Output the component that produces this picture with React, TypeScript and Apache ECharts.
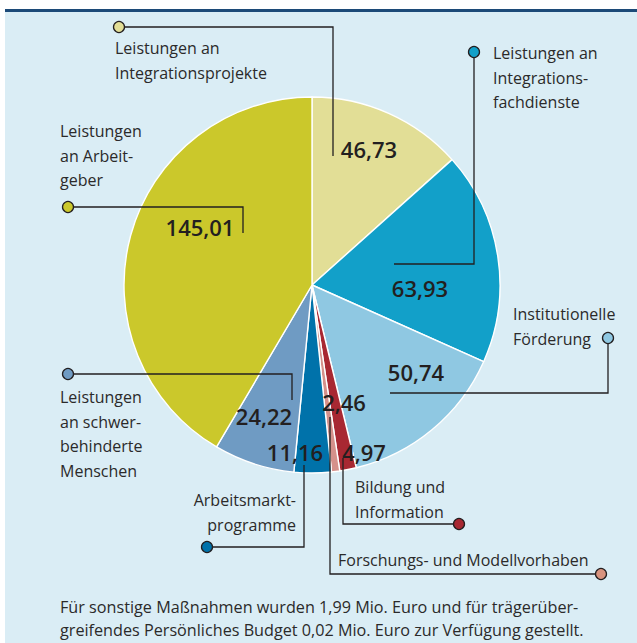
import React, { useEffect, useRef } from "react";
import * as echarts from "echarts";

// Data (Mio. Euro), clockwise from 12 o'clock
const categories = [
  "Leistungen an Integrationsprojekte",
  "Leistungen an Integrationsfachdienste",
  "Institutionelle Förderung",
  "Bildung und Information",
  "Forschungs- und Modellvorhaben",
  "Arbeitsmarktprogramme",
  "Leistungen an schwerbehinderte Menschen",
  "Leistungen an Arbeitgeber",
];
const values = [46.73, 63.93, 50.74, 4.97, 2.46, 11.16, 24.22, 145.01];
const footnote = [
  "Für sonstige Maßnahmen wurden 1,99 Mio. Euro und für trägerüber-",
  "greifendes Persönliches Budget 0,02 Mio. Euro zur Verfügung gestellt.",
];

// Styles / layout
const sliceColors = ["#e2de96", "#12a0c9", "#8fc8e2", "#a82832", "#d5918b", "#0072aa", "#6f9bc3", "#cbc82b"];
const markerColors = ["#e2de96", "#12a0c9", "#8fc8e2", "#a82832", "#d9937e", "#0072aa", "#6f9bc3", "#cbc82b"];
const valueLabelPos: [number, number][] = [
  [369, 149], [420, 288], [416, 372], [364, 452], [344, 402], [295, 452], [264, 416], [200, 227],
];
const calloutText: string[][] = [
  ["Leistungen an", "Integrationsprojekte"],
  ["Leistungen an", "Integrations-", "fachdienste"],
  ["Institutionelle", "Förderung"],
  ["Bildung und", "Information"],
  ["Forschungs- und Modellvorhaben"],
  ["Arbeitsmarkt-", "programme"],
  ["Leistungen", "an schwer-", "behinderte", "Menschen"],
  ["Leistungen", "an Arbeit-", "geber"],
];
const calloutTextPos: { x: number; y: number; align: string }[] = [
  { x: 115, y: 48, align: "left" },
  { x: 493, y: 53, align: "left" },
  { x: 513, y: 314, align: "left" },
  { x: 355, y: 487, align: "left" },
  { x: 338, y: 560, align: "left" },
  { x: 296, y: 500, align: "right" },
  { x: 60, y: 397, align: "left" },
  { x: 60, y: 131, align: "left" },
];
const leaderLines: [number, number][][] = [
  [[119, 27], [333, 27], [333, 156]],
  [[474, 52], [474, 264], [394, 264]],
  [[608, 338], [608, 393], [390, 393]],
  [[459, 524], [343, 524], [343, 458]],
  [[601, 574], [330, 574], [330, 417]],
  [[207, 547], [304, 547], [304, 465]],
  [[68, 374], [292, 374], [292, 400]],
  [[68, 207], [243, 207], [243, 233]],
];

const FONT = '"Open Sans", "Noto Sans", sans-serif';
const INK = "#231f20";
const LINE_H = 24.5;

export default function App() {
  const ref = useRef<HTMLDivElement>(null);

  useEffect(() => {
    document.body.style.margin = "0";
    if (!ref.current) return;
    const chart = echarts.init(ref.current, null, { renderer: "svg" });

    const fmt = (v: number) => v.toFixed(2).replace(".", ",");

    const graphics: any[] = [
      { type: "rect", z: -10, silent: true, shape: { x: 5, y: 10, width: 640, height: 640 }, style: { fill: "#daedf5" } },
      { type: "rect", z: -9, silent: true, shape: { x: 5, y: 9, width: 640, height: 3 }, style: { fill: "#1c4a78" } },
    ];

    leaderLines.forEach((pts) => {
      graphics.push({
        type: "polyline",
        z: 100,
        silent: true,
        shape: { points: pts },
        style: { stroke: INK, lineWidth: 1.3, fill: null },
      });
    });
    leaderLines.forEach((pts, i) => {
      graphics.push({
        type: "circle",
        z: 101,
        silent: true,
        shape: { cx: pts[0][0], cy: pts[0][1], r: 5.5 },
        style: { fill: markerColors[i], stroke: INK, lineWidth: 1.3 },
      });
    });
    calloutText.forEach((lines, i) => {
      const p = calloutTextPos[i];
      graphics.push({
        type: "text",
        z: 102,
        silent: true,
        style: {
          text: lines.join("\n"),
          x: p.x,
          y: p.y - LINE_H / 2,
          align: p.align,
          verticalAlign: "top",
          lineHeight: LINE_H,
          font: `16px ${FONT}`,
          fill: "#2b2a2a",
        },
      });
    });
    graphics.push({
      type: "text",
      z: 102,
      silent: true,
      style: {
        text: footnote.join("\n"),
        x: 60,
        y: 607 - 11.5,
        verticalAlign: "top",
        lineHeight: 23,
        font: `16.2px ${FONT}`,
        fill: "#2b2a2a",
      },
    });

    chart.setOption({
      animation: false,
      backgroundColor: "#ffffff",
      graphic: graphics,
      series: [
        {
          type: "pie",
          center: [312, 285],
          radius: [0, 188],
          startAngle: 90,
          clockwise: true,
          silent: true,
          itemStyle: { borderColor: "#ffffff", borderWidth: 1.4 },
          label: {
            show: true,
            position: "inside",
            formatter: (p: any) => fmt(p.value),
            fontFamily: FONT,
            fontSize: 22,
            fontWeight: 600,
            color: INK,
          },
          labelLine: { show: false },
          labelLayout: (params: any) => {
            const pos = valueLabelPos[params.dataIndex];
            return { x: pos[0], y: pos[1], align: "center", verticalAlign: "middle" };
          },
          data: categories.map((name, i) => ({
            name,
            value: values[i],
            itemStyle: { color: sliceColors[i] },
          })),
        },
      ],
    });

    return () => chart.dispose();
  }, []);

  return <div ref={ref} style={{ width: 637, height: 643 }} />;
}
